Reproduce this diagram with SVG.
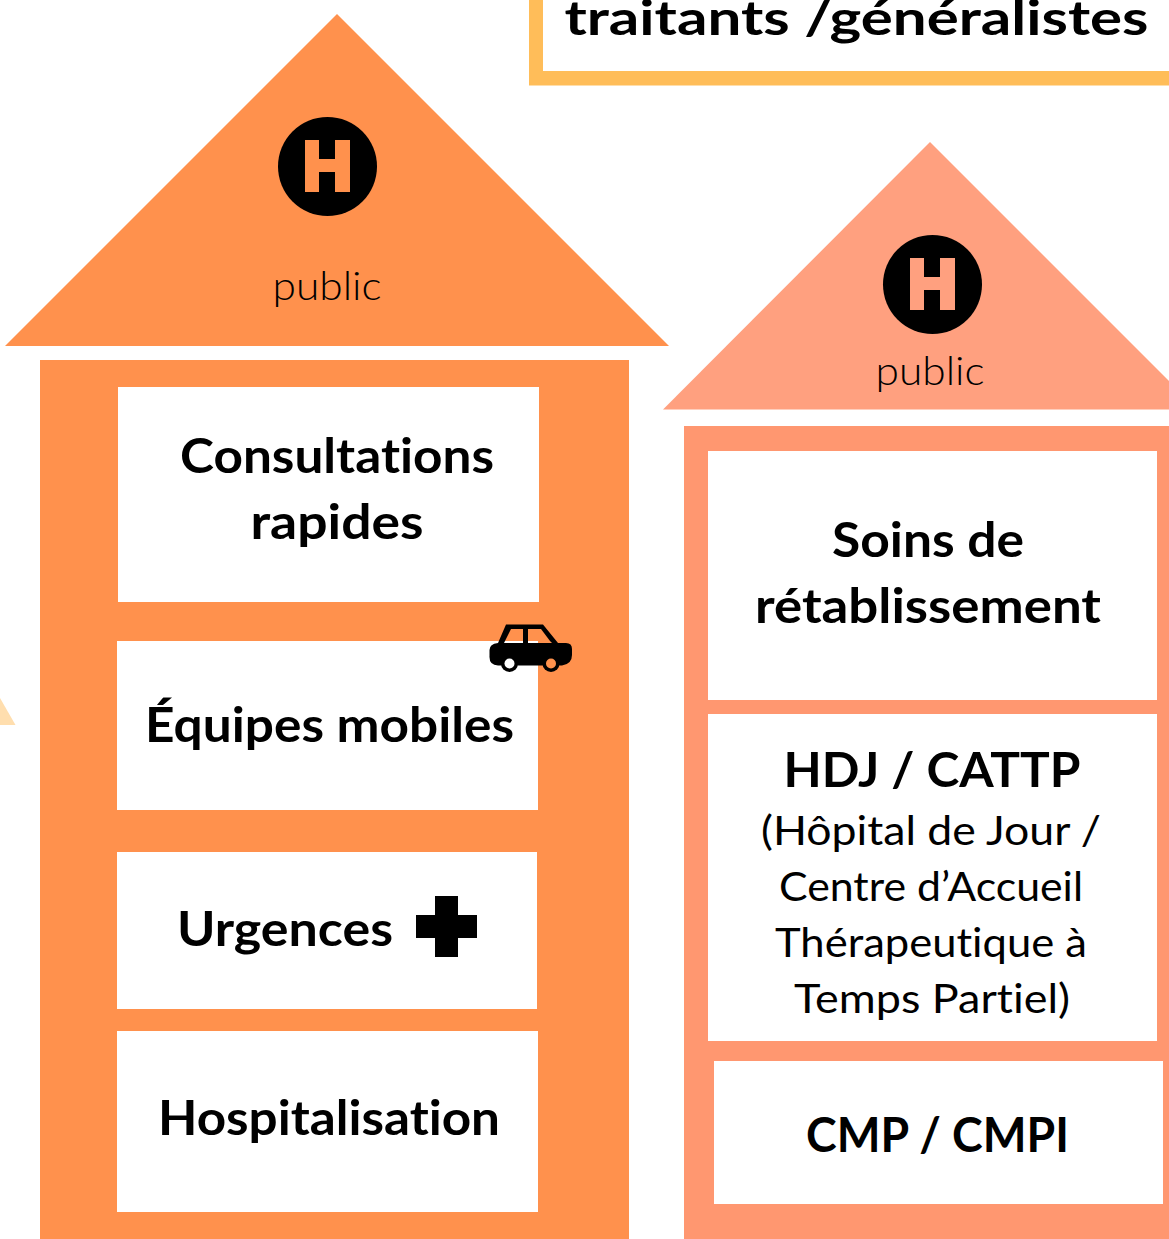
<svg xmlns="http://www.w3.org/2000/svg" width="1169" height="1239" viewBox="0 0 1169 1239">
<style>
text{font-family:"Lato","Noto Sans","Liberation Sans",sans-serif;fill:#000;text-anchor:middle;font-variant-ligatures:none}
.b{font-size:47px;font-weight:700}
.m{font-size:40px;font-weight:400}
.l{font-size:40px;font-weight:300}
.o{fill:#ff914d}
.p{fill:#ffa07f}
.q{fill:#ff9770}
.w{fill:#fff}
</style>
<rect width="1169" height="1239" fill="#fff"/>
<g id="medecins">
<path d="M529 0h14v71h626v14.500H529z" fill="#ffbd59"/>
<text class="b" x="856.500" y="35" textLength="584" lengthAdjust="spacingAndGlyphs">traitants /généralistes</text>
</g>
<g id="partial-triangle"><path d="M0 698L15.500 725H0z" fill="#ffdeae"/></g>
<g id="hopital-gauche">
<path class="o" d="M337 14L669 346H5z"/>
<rect class="o" x="40" y="360" width="589" height="879"/>
<circle cx="327.500" cy="166.500" r="49.500"/>
<path class="o" d="M305 140h14v19h16v-19h15v52h-15v-20h-16v20h-14z"/>
<text class="l" x="327" y="300" textLength="109" lengthAdjust="spacingAndGlyphs">public</text>
</g>
<g id="consultations">
<rect class="w" x="118" y="387" width="421" height="215"/>
<text class="b" x="337" y="473" textLength="314" lengthAdjust="spacingAndGlyphs">Consultations</text>
<text class="b" x="337" y="539" textLength="173" lengthAdjust="spacingAndGlyphs">rapides</text>
</g>
<g id="equipes">
<rect class="w" x="117" y="641" width="421" height="169"/>
<text class="b" x="329.500" y="742" textLength="369" lengthAdjust="spacingAndGlyphs">Équipes mobiles</text>
<g id="voiture">
<path d="M498 643L506 624.500H543L558 643H566Q572 643 572 649V655Q572 664 562 665.500H498Q489 665 489.500 656V650Q489.500 644 498 643Z"/>
<path class="o" d="M511 629H523V641H505Z"/>
<path class="w" d="M505 641H523V643H504Z"/>
<path class="o" d="M528 629H541L550 641H528Z"/>
<path class="w" d="M528 641H538V643H528Z"/>
<path class="o" d="M538 641H550L552 643H538Z"/>
<circle cx="509.500" cy="663.500" r="8.500"/><circle cx="551" cy="663.500" r="8.500"/>
<circle class="w" cx="509.500" cy="663.500" r="5"/><circle class="o" cx="551" cy="663.500" r="5"/>
</g>
</g>
<g id="urgences">
<rect class="w" x="117" y="852" width="420" height="157"/>
<text class="b" x="285" y="946" textLength="216" lengthAdjust="spacingAndGlyphs">Urgences</text>
<path d="M435 896h23v19h19v23h-19v19h-23v-19h-19v-23h19z"/>
</g>
<g id="hospitalisation">
<rect class="w" x="117" y="1031" width="421" height="181"/>
<text class="b" x="329" y="1135" textLength="342" lengthAdjust="spacingAndGlyphs">Hospitalisation</text>
</g>
<g id="hopital-droite">
<path class="p" d="M930 142L1169 381V409.500H663z"/>
<rect class="q" x="684" y="426" width="485" height="813"/>
<circle cx="932.500" cy="284.500" r="49.500"/>
<path class="p" d="M910 258h14v19h16v-19h15v52h-15v-20h-16v20h-14z"/>
<text class="l" x="930" y="385" textLength="109" lengthAdjust="spacingAndGlyphs">public</text>
</g>
<g id="soins">
<rect class="w" x="708" y="451" width="449" height="249"/>
<text class="b" x="928" y="557" textLength="192" lengthAdjust="spacingAndGlyphs">Soins de</text>
<text class="b" x="928" y="623" textLength="346" lengthAdjust="spacingAndGlyphs">rétablissement</text>
</g>
<g id="hdj">
<rect class="w" x="708" y="714" width="449" height="327"/>
<text class="b" x="932" y="787" textLength="297" lengthAdjust="spacingAndGlyphs">HDJ / CATTP</text>
<text class="m" x="931" y="845" textLength="340" lengthAdjust="spacingAndGlyphs">(Hôpital de Jour /</text>
<text class="m" x="931" y="901" textLength="304" lengthAdjust="spacingAndGlyphs">Centre d’Accueil</text>
<text class="m" x="931" y="957" textLength="312" lengthAdjust="spacingAndGlyphs">Thérapeutique à</text>
<text class="m" x="932" y="1013" textLength="276" lengthAdjust="spacingAndGlyphs">Temps Partiel)</text>
</g>
<g id="cmp">
<rect class="w" x="714" y="1061" width="449" height="143"/>
<text class="b" x="937.500" y="1152" textLength="263" lengthAdjust="spacingAndGlyphs">CMP / CMPI</text>
</g>
<g id="connectors"/>
</svg>
